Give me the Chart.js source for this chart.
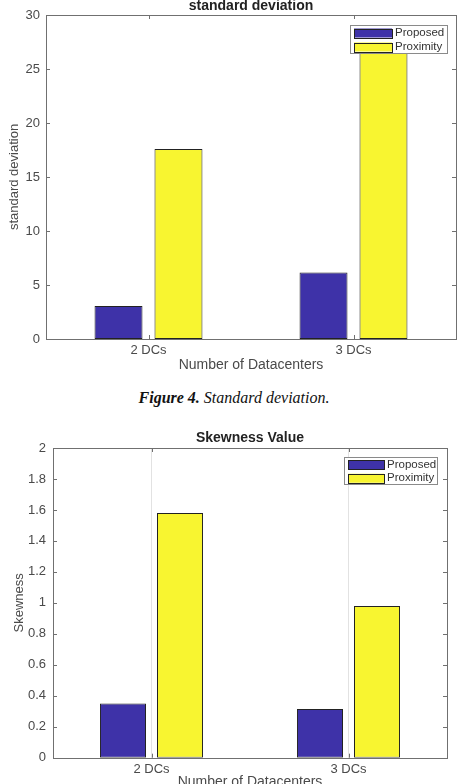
<!DOCTYPE html>
<html>
<head>
<meta charset="utf-8">
<script src="https://cdn.jsdelivr.net/npm/chart.js@4.4.1/dist/chart.umd.min.js"></script>
<style>
  html, body { margin: 0; padding: 0; background: #fff; width: 460px; height: 784px; overflow: hidden; position: relative; }
  canvas { position: absolute; left: 0; }
  #stdChart { top: -10px; }
  #skewChart { top: 420px; }
  .caption { position: absolute; top: 389px; left: 4px; width: 460px; text-align: center;
    font-family: "Liberation Serif", "Times New Roman", serif; font-size: 16px; line-height: 18px; font-style: italic; color: #111; }
  .caption b { font-weight: bold; }
</style>
</head>
<body>
<canvas id="stdChart" width="460" height="390"></canvas>
<div class="caption"><b>Figure 4.</b> Standard deviation.</div>
<canvas id="skewChart" width="460" height="380"></canvas>
<script>
// data
const categories = ["2 DCs", "3 DCs"];
const seriesNames = ["Proposed", "Proximity"];
const stdProposed = [3.05, 6.15];
const stdProximity = [17.6, 27.5];
const skewProposed = [0.35, 0.315];
const skewProximity = [1.58, 0.98];
const stdTicks = [0, 5, 10, 15, 20, 25, 30];
const skewTicks = [0, 0.2, 0.4, 0.6, 0.8, 1, 1.2, 1.4, 1.6, 1.8, 2];

const BLUE = "rgb(62,50,168)";
const YELLOW = "rgb(248,245,48)";
const AXIS = "#707070";
const TEXT = "#4a4a4a";
const FONT = "'Liberation Sans', Arial, sans-serif";

// matlab style box, inward ticks and legend inside the axes
const matlabAxes = {
  id: "matlabAxes",
  afterDatasetsDraw(chart) {
    const { ctx, chartArea: a, scales } = chart;
    ctx.save();
    ctx.strokeStyle = AXIS;
    ctx.lineWidth = 1;
    ctx.strokeRect(Math.round(a.left) + 0.5, Math.round(a.top) + 0.5,
      Math.round(a.right - a.left), Math.round(a.bottom - a.top));
    ctx.beginPath();
    scales.y.ticks.forEach((t) => {
      const y = Math.round(scales.y.getPixelForValue(t.value)) + 0.5;
      ctx.moveTo(a.left, y); ctx.lineTo(a.left + 4, y);
      ctx.moveTo(a.right, y); ctx.lineTo(a.right - 4, y);
    });
    scales.x.ticks.forEach((t, i) => {
      const x = Math.round(scales.x.getPixelForTick(i)) + 0.5;
      ctx.moveTo(x, a.bottom); ctx.lineTo(x, a.bottom - 4);
      ctx.moveTo(x, a.top); ctx.lineTo(x, a.top + 4);
    });
    ctx.stroke();
    ctx.restore();
  },
  afterDraw(chart, args, opts) {
    const { ctx, chartArea: a } = chart;
    const x0 = a.right - opts.right - opts.w;
    const y0 = a.top + opts.top;
    ctx.save();
    ctx.fillStyle = "#fff";
    ctx.fillRect(x0, y0, opts.w, opts.h);
    ctx.strokeStyle = "#8a8a8a";
    ctx.lineWidth = 1;
    ctx.strokeRect(Math.round(x0) + 0.5, Math.round(y0) + 0.5, opts.w, opts.h);
    const rowH = opts.h / 2;
    ctx.font = "11.5px " + FONT;
    ctx.textBaseline = "middle";
    chart.data.datasets.forEach((ds, i) => {
      const cy = y0 + 2 + rowH * i + (rowH - 2) / 2;
      ctx.fillStyle = ds.backgroundColor;
      ctx.fillRect(x0 + 4, cy - 4.5, opts.sw, 9);
      ctx.strokeStyle = "#222";
      ctx.strokeRect(Math.round(x0 + 4) + 0.5, Math.round(cy - 4.5) + 0.5, opts.sw, 9);
      ctx.fillStyle = "#333";
      ctx.fillText(ds.label, x0 + 7 + opts.sw, cy);
    });
    ctx.restore();
  },
};

function makeChart(id, proposed, proximity, cfg) {
  return new Chart(document.getElementById(id), {
    type: "bar",
    data: {
      labels: categories,
      datasets: [
        { label: seriesNames[0], data: proposed, backgroundColor: BLUE },
        { label: seriesNames[1], data: proximity, backgroundColor: YELLOW },
      ],
    },
    options: {
      responsive: false,
      animation: false,
      devicePixelRatio: 1,
      layout: { padding: { left: 0, right: cfg.padRight, top: 0, bottom: 0 } },
      datasets: {
        bar: {
          borderColor: "#222",
          borderWidth: 1,
          borderSkipped: false,
          categoryPercentage: cfg.catPct,
          barPercentage: cfg.barPct,
        },
      },
      scales: {
        x: {
          grid: { display: cfg.xGrid, offset: false, color: "#e2e2e2", drawTicks: false },
          border: { display: false },
          ticks: { color: TEXT, font: { family: FONT, size: 13 }, padding: cfg.xTickPad, maxRotation: 0 },
          title: {
            display: true, text: "Number of Datacenters", color: TEXT,
            font: { family: FONT, size: 14 }, padding: { top: 0, bottom: cfg.xTitlePad },
          },
          afterFit: (s) => { s.height = cfg.xHeight; },
        },
        y: {
          min: cfg.ticks[0],
          max: cfg.ticks[cfg.ticks.length - 1],
          grid: { display: false, drawTicks: false },
          border: { display: false },
          afterBuildTicks: (s) => { s.ticks = cfg.ticks.map((v) => ({ value: v })); },
          ticks: {
            color: TEXT, font: { family: FONT, size: 13 }, padding: cfg.yTickPad,
            callback: (v) => String(Math.round(v * 10) / 10),
          },
          title: {
            display: true, text: cfg.yTitle, color: TEXT,
            font: { family: FONT, size: 13 }, padding: { top: cfg.yTitlePad, bottom: 0 },
          },
          afterFit: (s) => { s.width = cfg.yWidth; },
        },
      },
      plugins: {
        legend: { display: false },
        tooltip: { enabled: false },
        title: {
          display: true, text: cfg.title, color: "#222", fullSize: false,
          font: { family: FONT, size: 14, weight: "bold" },
          padding: { top: cfg.titleTop, bottom: cfg.titleBottom },
        },
        matlabAxes: cfg.legend,
      },
    },
    plugins: [matlabAxes],
  });
}

makeChart("stdChart", stdProposed, stdProximity, {
  title: "standard deviation",
  yTitle: "standard deviation",
  ticks: stdTicks,
  padRight: 4,
  yWidth: 46,
  xHeight: 41,
  titleTop: 8,
  titleBottom: 0.2,
  xTickPad: 4,
  xTitlePad: 6.6,
  yTickPad: 6,
  yTitlePad: 7,
  xGrid: false,
  catPct: 0.585,
  barPct: 0.8,
  legend: { right: 9, top: 10, w: 97, h: 28, sw: 38 },
});

makeChart("skewChart", skewProposed, skewProximity, {
  title: "Skewness Value",
  yTitle: "Skewness",
  ticks: skewTicks,
  padRight: 13,
  yWidth: 53,
  xHeight: 42.3,
  titleTop: 9.3,
  titleBottom: 1.9,
  xTickPad: 3.5,
  xTitlePad: 9.9,
  yTickPad: 7,
  yTitlePad: 12,
  xGrid: true,
  catPct: 0.579,
  barPct: 0.807,
  legend: { right: 10, top: 9, w: 93, h: 27, sw: 36 },
});
</script>
</body>
</html>
